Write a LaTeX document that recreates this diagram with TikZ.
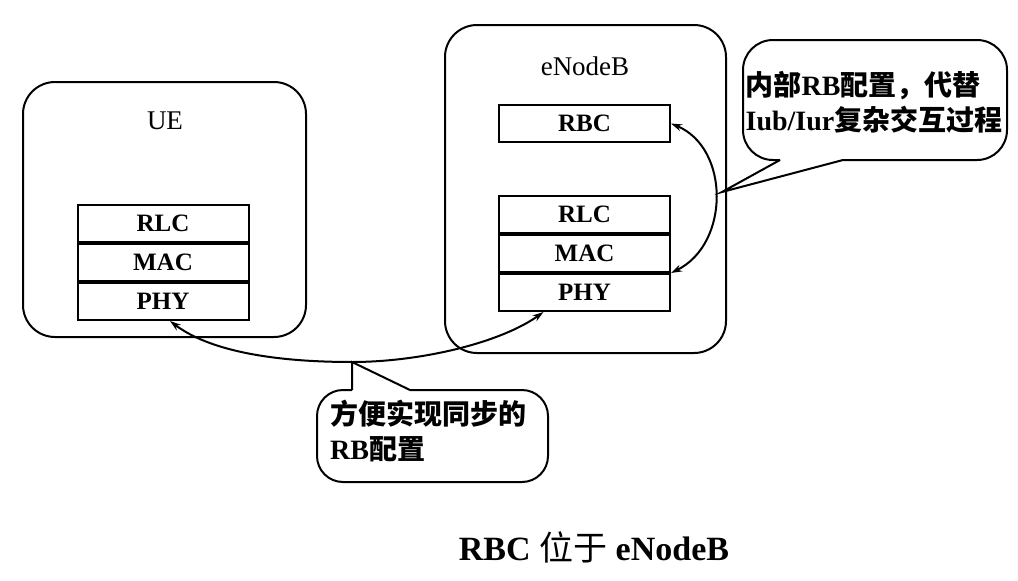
\documentclass[tikz,border=0pt]{standalone}
\usepackage{fontspec}
\setmainfont{Liberation Serif}
\newfontfamily\cjk{Noto Sans CJK SC}
\usetikzlibrary{arrows.meta}
\tikzset{
  outer/.style={draw, line width=2pt, rounded corners=32pt},
  layer/.style={draw, line width=2pt, minimum width=171pt, minimum height=37pt, inner sep=0pt, font=\fontsize{25}{28}\selectfont\bfseries},
  lbl/.style={font=\fontsize{27}{30}\selectfont},
  conn/.style={line width=2pt, {Stealth[length=11pt,width=7pt]}-{Stealth[length=11pt,width=7pt]}},
  callout/.style={draw, line width=2pt},
  ctext/.style={font=\fontsize{28}{35}\selectfont\bfseries, align=left, inner sep=0pt}
}
\begin{document}
\begin{tikzpicture}[x=1pt,y=-1pt]
\useasboundingbox (0,0) rectangle (1018,581);
% UE
\draw[outer] (23,82) rectangle (306,337);
\node[lbl] (uelbl) at (165,121) {UE};
\node[layer] (urlc) at (163,223.5) {RLC};
\node[layer, anchor=north] (umac) at (urlc.south) {MAC};
\node[layer, anchor=north] (uphy) at (umac.south) {PHY};
% eNodeB
\draw[outer] (445,25) rectangle (726,353);
\node[lbl] (enblbl) at (585,66) {eNodeB};
\node[layer] (rbc) at (584.5,123.5) {RBC};
\node[layer] (erlc) at (584.5,214.5) {RLC};
\node[layer, anchor=north] (emac) at (erlc.south) {MAC};
\node[layer, anchor=north] (ephy) at (emac.south) {PHY};
% RBC <-> MAC/PHY
\draw[conn] (rbc.east) .. controls (730,148) and (730,244) .. (emac.south east);
% top-right callout
\coordinate (tip1) at (722,192);
\draw[callout, rounded corners=30pt] (843,160) -- (1007,160) -- (1007,40) -- (743,40) -- (743,160) -- (780,160);
\draw[callout, line join=miter] (780,160) -- (tip1) -- (843,160);
\node[ctext] (c1) at (874,102) {{\cjk 内部}RB{\cjk 配置，代替}\\Iub/Iur{\cjk 复杂交互过程}};
% UE PHY <-> eNodeB PHY
\coordinate (tip2) at (352,362);
\draw[conn] ([xshift=7pt]uphy.south) .. controls (215,355) and (290,362) .. (tip2) .. controls (420,362) and (500,343) .. ([xshift=-41pt]ephy.south);
% bottom callout
\draw[callout, rounded corners=26pt] (410,390) -- (548,390) -- (548,482) -- (317,482) -- (317,390) -- (352,390);
\draw[callout, line join=miter] (352,390) -- (tip2) -- (410,390);
\node[ctext, anchor=north west] (c2) at (330,400) {{\cjk 方便实现同步的}\\RB{\cjk 配置}};
% caption
\node[font=\fontsize{34}{38}\selectfont\bfseries] (cap) at (594,547) {RBC {\cjk\mdseries 位于} eNodeB};
\end{tikzpicture}
\end{document}
